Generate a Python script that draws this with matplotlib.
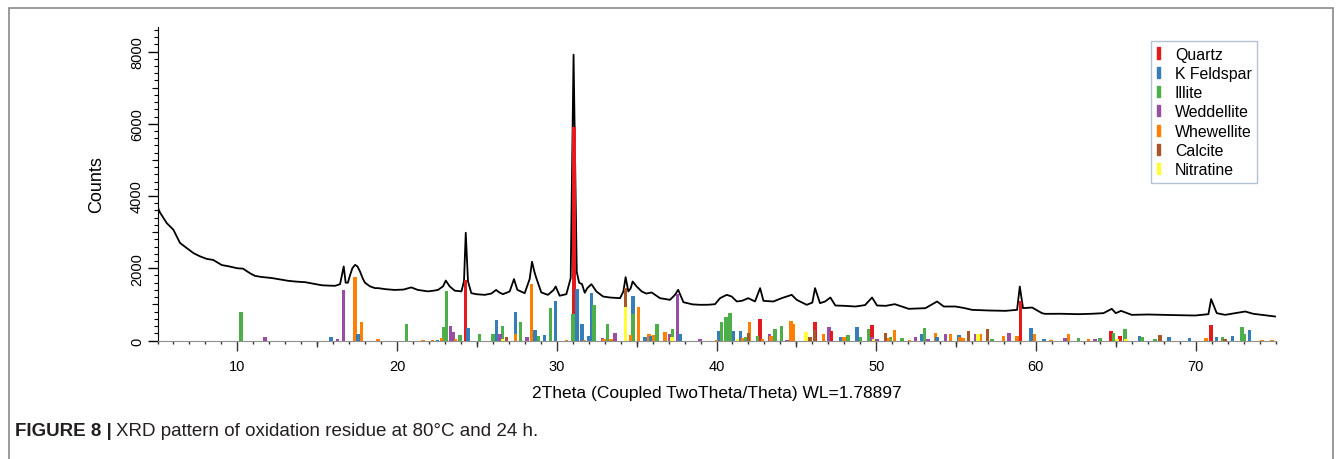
import numpy as np
import matplotlib
matplotlib.use("Agg")
import matplotlib.pyplot as plt
import matplotlib.ticker as ticker
from matplotlib.patches import Rectangle

plt.rcParams['font.family'] = ['Liberation Sans', 'DejaVu Sans']

# measured diffractogram (2theta in deg, counts)
two_theta = [5.0, 5.16, 5.58, 5.99, 6.41, 6.83, 7.25, 7.66, 8.08, 8.49, 9.02, 9.5, 10.0, 10.35,
             10.8, 11.1, 11.5, 12.15, 12.67, 13.19, 13.7, 14.24, 14.8, 15.28, 15.7, 16.12, 16.43,
             16.66, 16.78, 16.92, 17.05, 17.2, 17.37, 17.52, 17.68, 17.85, 17.99, 18.3, 18.62,
             18.81, 19.3, 19.85, 20.4, 20.89, 21.3, 21.94, 22.3, 22.56, 22.88, 23.05, 23.29,
             23.61, 24.03, 24.19, 24.3, 24.44, 24.65, 25.0, 25.49, 25.9, 26.2, 26.4, 26.63,
             27.05, 27.32, 27.53, 27.99, 28.3, 28.45, 28.6, 28.72, 29.03, 29.45, 29.8, 29.93,
             30.18, 30.6, 30.87, 31.05, 31.25, 31.4, 31.58, 31.75, 31.91, 32.17, 32.48, 32.9,
             33.33, 33.96, 34.17, 34.31, 34.48, 34.63, 34.75, 35.0, 35.32, 35.6, 35.94, 36.46,
             37.09, 37.4, 37.6, 37.93, 38.5, 38.97, 39.5, 39.91, 40.22, 40.64, 40.95, 41.27,
             41.6, 41.99, 42.41, 42.73, 42.94, 43.56, 44.08, 44.71, 45.02, 45.65, 46.0, 46.17,
             46.48, 46.8, 47.13, 47.44, 48.0, 48.7, 49.3, 49.74, 50.05, 50.6, 51.16, 52.04,
             53.08, 53.81, 54.23, 54.96, 55.5, 56.0, 57.04, 58.09, 58.82, 58.99, 59.19, 59.76,
             60.38, 60.57, 61.6, 62.66, 63.5, 64.23, 64.75, 65.0, 65.33, 66.0, 67.0, 67.88,
             69.0, 69.97, 70.8, 70.97, 71.32, 71.84, 72.5, 73.1, 73.6, 74.14, 74.97]
counts = [3700, 3540, 3250, 3070, 2700, 2560, 2420, 2330, 2260, 2230, 2090, 2050, 2000, 1990,
          1860, 1790, 1760, 1730, 1690, 1652, 1630, 1615, 1570, 1530, 1520, 1514, 1560,
          2050, 1600, 1600, 1800, 2000, 2095, 2050, 1910, 1720, 1600, 1500, 1450,
          1450, 1420, 1400, 1410, 1470, 1400, 1360, 1380, 1400, 1500, 1660, 1500,
          1380, 1360, 1640, 2983, 1640, 1310, 1280, 1264, 1300, 1400, 1330, 1283,
          1357, 1700, 1403, 1310, 1700, 2180, 1900, 1726, 1330, 1264, 1400, 1495,
          1240, 1283, 1726, 7915, 1900, 1600, 1560, 1320, 1450, 1560, 1357, 1218,
          1190, 1172, 1357, 1754, 1357, 1450, 1634, 1495, 1357, 1300, 1330, 1172,
          1126, 1264, 1403, 1060, 1000, 988, 990, 1006, 1172, 1264, 1218, 1080,
          1100, 1172, 1080, 1450, 1098, 1080, 1172, 1264, 1126, 988, 1050, 1450,
          1034, 1080, 1190, 969, 960, 941, 980, 1190, 969, 960, 1006, 877,
          895, 1080, 941, 941, 900, 849, 831, 821, 849, 1495, 895, 913,
          757, 738, 740, 729, 740, 757, 877, 757, 821, 710, 720, 710,
          700, 692, 729, 1145, 757, 710, 760, 803, 740, 710, 665]

# reference patterns (stick positions / intensities)
quartz_pos = [24.28, 31.08, 42.73, 46.17, 47.19, 49.74, 59.03, 64.71, 65.27, 70.95]
quartz_int = [1680, 5920, 600, 517, 258, 434, 1080, 268, 130, 434]

feldspar_pos = [15.86, 17.55, 22.52, 24.44, 26.22, 27.41, 28.62, 29.24, 29.93, 31.27, 31.58,
                31.98, 32.17, 34.77, 35.53, 35.88, 37.72, 40.14, 41.06, 41.5, 47.8, 48.8,
                52.83, 53.81, 55.17, 59.7, 60.49, 66.48, 68.34, 69.61, 71.32, 72.32, 73.37]
feldspar_int = [100, 175, 20, 350, 570, 785, 295, 157, 1080, 1420, 460,
                130, 1310, 1220, 100, 130, 175, 268, 250, 258, 110, 360,
                175, 100, 157, 340, 55, 138, 92, 83, 110, 130, 286]

illite_pos = [10.23, 20.58, 22.92, 23.09, 23.94, 25.15, 26.01, 26.59, 27.72, 28.85, 29.62,
              31.0, 32.33, 33.19, 34.77, 36.28, 37.26, 40.31, 40.6, 40.85, 41.83, 42.56,
              43.67, 44.08, 48.22, 49.01, 49.53, 50.89, 51.62, 53.02, 57.25, 62.66, 64.02,
              64.85, 65.58, 66.63, 67.46, 71.68, 72.89, 73.05]
illite_int = [785, 460, 360, 1365, 150, 175, 185, 405, 510, 130, 895,
              730, 990, 460, 730, 450, 330, 508, 655, 775, 110, 130,
              330, 415, 166, 92, 305, 100, 74, 340, 55, 83, 83,
              203, 314, 110, 55, 100, 360, 185]

weddellite_pos = [11.73, 16.28, 16.64, 23.36, 23.52, 26.45, 28.14, 32.87, 33.65, 37.05, 37.55,
                  38.97, 43.31, 44.4, 47.03, 49.74, 50.05, 52.45, 53.25, 54.33, 56.25, 58.3,
                  61.83, 63.7]
weddellite_int = [100, 40, 1395, 415, 230, 175, 92, 65, 200, 185, 1290,
                  30, 175, 20, 370, 110, 30, 92, 30, 175, 175, 203,
                  65, 55]

whewellite_pos = [17.37, 17.78, 18.79, 21.62, 22.21, 22.77, 23.65, 27.41, 28.43, 30.6, 31.75,
                  32.96, 33.4, 34.63, 35.11, 35.76, 36.05, 36.76, 40.01, 41.64, 42.06, 42.89,
                  43.42, 44.67, 44.81, 46.71, 47.97, 50.78, 51.14, 52.08, 53.71, 54.64, 55.23,
                  55.48, 56.54, 57.98, 58.82, 59.9, 60.95, 62.03, 63.29, 70.65, 74.14, 74.77]
whewellite_int = [1745, 510, 30, 20, 20, 75, 30, 175, 1560, 20, 20,
                  35, 35, 157, 925, 175, 148, 230, 20, 65, 517, 45,
                  130, 535, 470, 185, 110, 65, 286, 20, 220, 175, 110,
                  65, 185, 138, 130, 185, 20, 175, 55, 65, 25, 25]

calcite_pos = [26.84, 34.31, 42.0, 45.86, 46.13, 50.57, 55.79, 56.98, 67.77, 71.84]
calcite_int = [110, 1450, 194, 110, 286, 203, 268, 314, 157, 55]

nitratine_pos = [26.59, 34.31, 37.2, 41.31, 45.59, 49.84, 56.38, 65.06, 65.65]
nitratine_int = [40, 940, 110, 55, 230, 46, 175, 30, 30]

phases = [
    ('Quartz', '#e41a1c', quartz_pos, quartz_int),
    ('K Feldspar', '#377eb8', feldspar_pos, feldspar_int),
    ('Illite', '#4daf4a', illite_pos, illite_int),
    ('Weddellite', '#984ea3', weddellite_pos, weddellite_int),
    ('Whewellite', '#ff7f00', whewellite_pos, whewellite_int),
    ('Calcite', '#a65628', calcite_pos, calcite_int),
    ('Nitratine', '#ffff33', nitratine_pos, nitratine_int),
]

W, H = 1342, 460
fig = plt.figure(figsize=(W / 100, H / 100), dpi=100)
fig.patches.append(Rectangle((9 / W, -0.1), (1333 - 9) / W, 1.1 - 9 / H, transform=fig.transFigure,
                             fill=False, edgecolor='#8a8a8a', linewidth=1.2))

ax = fig.add_axes([157.5 / W, 1 - 341.5 / H, (1275.5 - 157.5) / W, (341.5 - 28) / H])
ax.set_xlim(5, 75)
ax.set_ylim(0, 8680)

ax.plot(two_theta, counts, color='black', linewidth=1.3, zorder=2)

# sticks: tallest first so the shorter ones stay visible in front
sticks = []
for name, col, pos, inten in phases:
    for p, i in zip(pos, inten):
        sticks.append((i, p, col))
sticks.sort(key=lambda s: -s[0])
for k, (i, p, col) in enumerate(sticks):
    ax.bar(p, i, width=0.22, color=col, linewidth=0, zorder=3 + k * 0.001)

for s in ['top', 'right']:
    ax.spines[s].set_visible(False)
ax.spines['left'].set_color('black')
ax.spines['bottom'].set_color('#8f8f8f')

ax.xaxis.set_major_locator(ticker.MultipleLocator(10))
ax.xaxis.set_minor_locator(ticker.MultipleLocator(1))
ax.yaxis.set_major_locator(ticker.MultipleLocator(2000))
ax.yaxis.set_minor_locator(ticker.MultipleLocator(200))
ax.tick_params(axis='x', which='major', length=7.2, width=1, color='#333333', labelsize=10.5, pad=6)
ax.tick_params(axis='x', which='minor', length=2.2, width=1, color='#333333')
ax.tick_params(axis='y', which='major', length=7.2, width=1, labelsize=10.5, pad=2.5)
ax.tick_params(axis='y', which='minor', length=3, width=0.8)
for lab in ax.get_yticklabels():
    lab.set_rotation(90)
    lab.set_va('center')

# intermediate ticks at every 5 deg and every 1000 counts
sx = ax.secondary_xaxis('bottom')
sx.set_xticks(np.arange(15, 75, 10))
sx.tick_params(length=4.3, width=1, color='#333333', labelbottom=False)
sx.spines['bottom'].set_visible(False)
sy = ax.secondary_yaxis('left')
sy.set_yticks(np.arange(1000, 9000, 2000))
sy.tick_params(length=4.5, width=0.8, labelleft=False)
sy.spines['left'].set_visible(False)

ax.set_xlabel('2Theta (Coupled TwoTheta/Theta) WL=1.78897', fontsize=12.5, labelpad=9)
ax.set_ylabel('Counts', fontsize=13, labelpad=18)

handles = [Rectangle((0, 0), 1, 1, color=c) for _, c, _, _ in phases]
leg = fig.legend(handles, [n for n, _, _, _ in phases], loc='upper left',
                 bbox_to_anchor=(1151 / W, 1 - 42 / H), fontsize=11.4, frameon=True,
                 fancybox=False, edgecolor='#a3b3c8', handlelength=0.2, handleheight=0.7,
                 handletextpad=0.95, labelspacing=0.27, borderpad=0.35, borderaxespad=0)
leg.get_frame().set_linewidth(1.0)

t1 = fig.text(15 / W, 1 - 432 / H, 'FIGURE 8 |', fontsize=13.5, fontweight='bold',
              va='center', ha='left', color='#231f20')
fig.canvas.draw()
bb = t1.get_window_extent()
fig.text((bb.x1 + 4) / W, 1 - 432 / H, 'XRD pattern of oxidation residue at 80°C and 24 h.',
         fontsize=13.5, va='center', ha='left', color='#231f20')

fig.savefig('out.png', dpi=100)
